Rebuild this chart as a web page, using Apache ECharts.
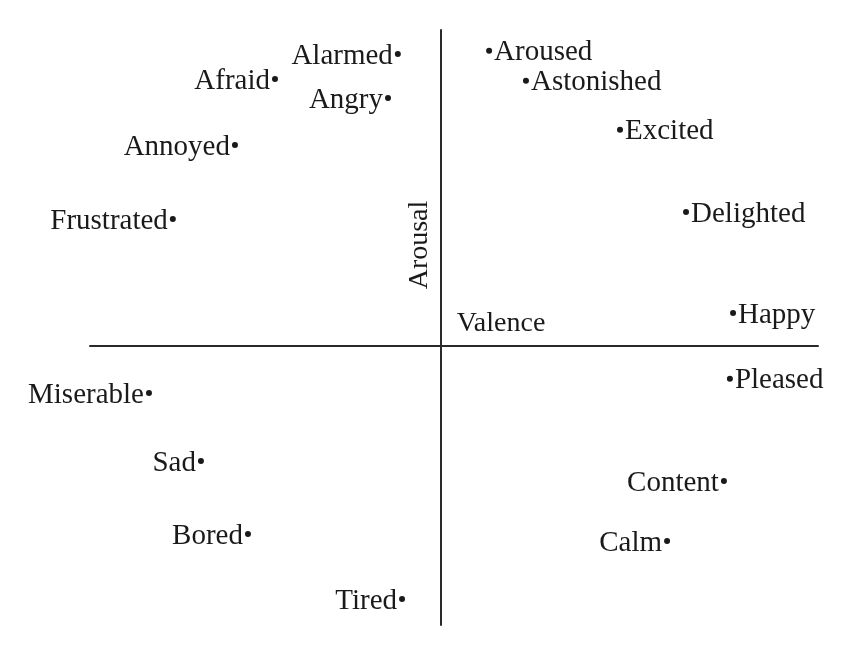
<!DOCTYPE html>
<html>
<head>
<meta charset="utf-8">
<script src="https://cdn.jsdelivr.net/npm/echarts@6/dist/echarts.min.js"></script>
<style>html,body{margin:0;padding:0;background:#fff}#c{width:850px;height:653px}</style>
</head>
<body>
<div id="c"></div>
<script>
// Emotion labels (Russell circumplex)
const emotions = ['Alarmed','Afraid','Angry','Annoyed','Frustrated','Aroused','Astonished','Excited','Delighted','Happy','Pleased','Miserable','Sad','Bored','Tired','Content','Calm'];
// Valence (x) and arousal (y)
const valence = [-0.123,-0.473,-0.151,-0.587,-0.764, 0.137, 0.242, 0.510, 0.698, 0.832, 0.823,-0.832,-0.684,-0.550,-0.111, 0.806, 0.644];
const arousal = [ 0.924, 0.845, 0.785, 0.636, 0.402, 0.934, 0.839, 0.684, 0.424, 0.104,-0.104,-0.149,-0.364,-0.595,-0.801,-0.427,-0.617];
// Which side of the dot the word sits
const labelSide = ['left','left','left','left','left','right','right','right','right','right','right','left','left','left','left','left','left'];
const axisNames = { x: 'Valence', y: 'Arousal' };

const FONT = '"Liberation Serif", "DejaVu Serif", serif';
const TXT = '#1a1a1a';

const data = emotions.map((n, i) => ({
  name: n,
  value: [valence[i], arousal[i]],
  label: { position: labelSide[i] }
}));

const chart = echarts.init(document.getElementById('c'), null, { renderer: 'canvas' });
chart.setOption({
  animation: false,
  backgroundColor: '#fff',
  grid: { left: 90, right: 32, top: 30, bottom: 28 },
  xAxis: {
    type: 'value', min: -1, max: 1.074,
    axisLine: { onZero: true, lineStyle: { color: '#2a2a2a', width: 2 } },
    axisTick: { show: false }, axisLabel: { show: false }, splitLine: { show: false }
  },
  yAxis: {
    type: 'value', min: -0.883, max: 1,
    axisLine: { onZero: true, lineStyle: { color: '#2a2a2a', width: 2 } },
    axisTick: { show: false }, axisLabel: { show: false }, splitLine: { show: false }
  },
  series: [{
    type: 'scatter',
    symbol: 'circle',
    symbolSize: 6,
    itemStyle: { color: TXT, opacity: 1 },
    label: {
      show: true,
      formatter: '{b}',
      distance: 2,
      offset: [0, 2],
      fontFamily: FONT,
      fontSize: 29,
      color: TXT,
      opacity: 1
    },
    data: data
  }],
  graphic: [
    { type: 'text', x: 420, y: 245, rotation: Math.PI / 2,
      style: { text: axisNames.y, font: '28px ' + FONT, fill: TXT, textAlign: 'center', textVerticalAlign: 'middle' } },
    { type: 'text', x: 501, y: 324,
      style: { text: axisNames.x, font: '28px ' + FONT, fill: TXT, textAlign: 'center', textVerticalAlign: 'middle' } }
  ]
});
</script>
</body>
</html>
